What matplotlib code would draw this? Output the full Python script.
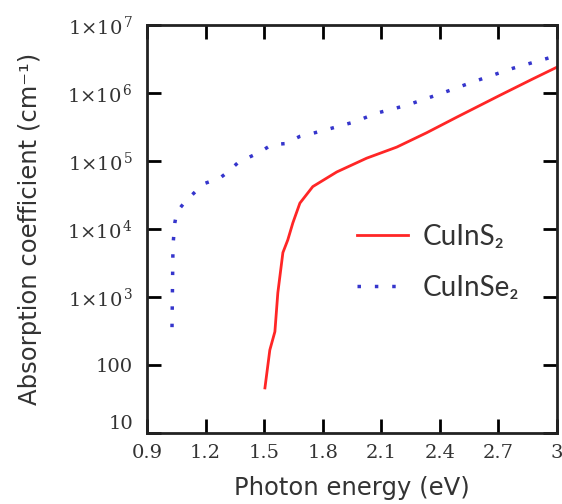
import matplotlib
matplotlib.use("Agg")
import matplotlib.pyplot as plt
import matplotlib.transforms as mtransforms

# CuInS2 (red, solid)
e_s = [1.504, 1.529, 1.555, 1.570, 1.596, 1.621, 1.647, 1.683, 1.749, 1.872,
       2.025, 2.179, 2.332, 2.486, 2.706, 2.874, 3.0]
a_s = [46, 166, 309, 1150, 4500, 6900, 12300, 24000, 42000, 69000,
       1.1e5, 1.6e5, 2.6e5, 4.4e5, 9.2e5, 1.6e6, 2.4e6]

# CuInSe2 (blue, dotted)
e_se = [1.028, 1.033, 1.043, 1.053, 1.094, 1.146, 1.197, 1.273, 1.314, 1.365,
        1.427, 1.478, 1.539, 1.606, 1.683, 1.759, 1.821, 1.954, 2.082, 2.23,
        2.414, 2.568, 2.772, 2.977]
a_se = [360, 5800, 12600, 17800, 25000, 35000, 47000, 56000, 69000, 94000,
        1.15e5, 1.35e5, 1.74e5, 1.8e5, 2.3e5, 2.6e5, 2.9e5, 3.7e5, 5.1e5, 6.6e5,
        1.0e6, 1.45e6, 2.3e6, 3.4e6]

xticks = [0.9, 1.2, 1.5, 1.8, 2.1, 2.4, 2.7, 3.0]
xlabels = ["0.9", "1.2", "1.5", "1.8", "2.1", "2.4", "2.7", "3"]
yticks = [10, 100, 1e3, 1e4, 1e5, 1e6, 1e7]
ylabels = ["10", "100", r"1$\times$10$^{\,3}$", r"1$\times$10$^{\,4}$",
           r"1$\times$10$^{\,5}$", r"1$\times$10$^{\,6}$", r"1$\times$10$^{\,7}$"]

plt.rcParams["mathtext.fontset"] = "dejavuserif"

fig = plt.figure(figsize=(5.62, 5.04), dpi=100)
ax = fig.add_axes([0.2616, 0.1409, 0.7295, 0.8095])

ax.plot(e_s, a_s, color="#ff2626", lw=2, label="CuInS₂")
ax.plot(e_se, a_se, color="#3535cc", lw=2.5, ls=(0, (1, 4)), label="CuInSe₂")

ax.set_yscale("log")
ax.set_xlim(0.9, 3.0)
ax.set_ylim(10, 1e7)
ax.minorticks_off()
ax.set_xticks(xticks)
ax.set_xticklabels(xlabels, family="DejaVu Serif", fontsize=14, color="#333333")
ax.set_yticks(yticks)
ax.set_yticklabels(ylabels, family="DejaVu Serif", fontsize=14, color="#333333")
ax.tick_params(direction="in", length=10, width=2, top=True, right=True, pad=10)
ax.tick_params(axis="x", pad=8)
# bottom "10" label sits a little above the axis
lab10 = ax.get_yticklabels()[0]
lab10.set_transform(lab10.get_transform() + mtransforms.ScaledTranslation(0, 8 / 72, fig.dpi_scale_trans))
for s in ax.spines.values():
    s.set_linewidth(2)
    s.set_color("#222222")

ax.set_xlabel("Photon energy (eV)", fontsize=17.5, family="DejaVu Sans", color="#333333", labelpad=10)
ax.set_ylabel("Absorption coefficient (cm⁻¹)", fontsize=17.5,
              family="DejaVu Sans", color="#333333", labelpad=18)

leg = ax.legend(loc="center left", bbox_to_anchor=(0.512, 0.418), frameon=False,
                prop={"family": ["Lato", "DejaVu Sans"], "size": 20},
                handlelength=1.83, labelspacing=0.9, handletextpad=0.54,
                borderpad=0, borderaxespad=0)
for t in leg.get_texts():
    t.set_color("#333333")

fig.savefig("out.png", dpi=100)
